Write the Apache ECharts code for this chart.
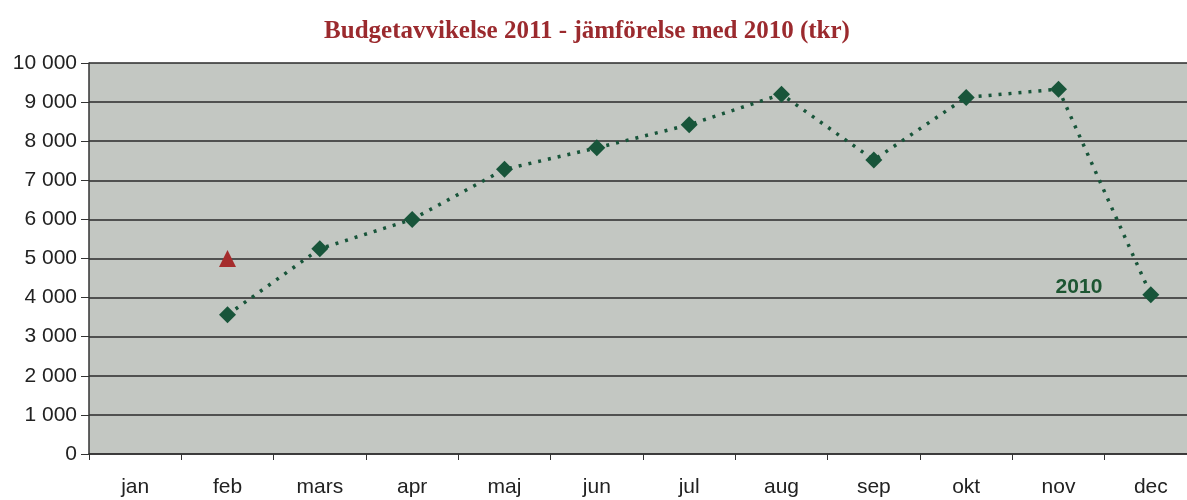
<!DOCTYPE html>
<html><head><meta charset="utf-8">
<script src="https://cdn.jsdelivr.net/npm/echarts@6/dist/echarts.min.js"></script>
<style>html,body{margin:0;padding:0;background:#fff;overflow:hidden;width:1187px;height:500px}#c{width:1210px;height:500px}</style>
</head><body><div id="c"></div>
<script>
const months = ["jan","feb","mars","apr","maj","jun","jul","aug","sep","okt","nov","dec"];
const values2010 = [null,3560,5250,6000,7280,7830,8420,9200,7520,9120,9330,4070];
const values2011 = [null,5000,null,null,null,null,null,null,null,null,null,null];
const seriesLabel = "2010";
const titleText = "Budgetavvikelse 2011 - jämförelse med 2010 (tkr)";

const chart = echarts.init(document.getElementById('c'));
const fmt = v => String(v).replace(/\B(?=(\d{3})+(?!\d))/g, ' ');
chart.setOption({
  animation:false,
  title:{text:titleText,left:582,top:14,textAlign:'center',
    textStyle:{fontFamily:'Liberation Serif',fontWeight:'bold',fontSize:25,color:'#9b2a2e'}},
  grid:{left:89,right:13,top:63,bottom:46,show:true,backgroundColor:'#c3c7c2',borderWidth:0,outerBoundsMode:'none'},
  xAxis:{type:'category',data:months,boundaryGap:true,
    axisLine:{lineStyle:{color:'#333',width:1.5}},
    axisTick:{show:true,length:6,lineStyle:{color:'#333'}},
    axisLabel:{fontFamily:'Liberation Sans',fontSize:21,color:'#222',margin:23}},
  yAxis:{type:'value',min:0,max:10000,interval:1000,
    axisLine:{show:true,lineStyle:{color:'#333',width:1.5}},
    axisTick:{show:true,length:8,lineStyle:{color:'#333'}},
    splitLine:{lineStyle:{color:'#2a2a2a',width:1.5}},
    axisLabel:{fontFamily:'Liberation Sans',fontSize:21,color:'#222',margin:12,formatter:fmt}},
  series:[
    {type:'line',name:'2010',data:values2010.map((v,i)=>i===11?{value:v,label:{show:true,formatter:seriesLabel,position:'left',distance:40,offset:[0,-8],
        fontFamily:'Liberation Sans',fontWeight:'bold',fontSize:21,color:'#1d5632'}}:v),
      symbol:'diamond',symbolSize:17,connectNulls:false,
      itemStyle:{color:'#18553a'},
      lineStyle:{color:'#18553a',width:3.5,type:[3,7]}},
    {type:'line',name:'2011',data:values2011,symbol:'triangle',symbolSize:17,
      itemStyle:{color:'#a52c2c'},lineStyle:{width:0}}
  ]
});
</script></body></html>
